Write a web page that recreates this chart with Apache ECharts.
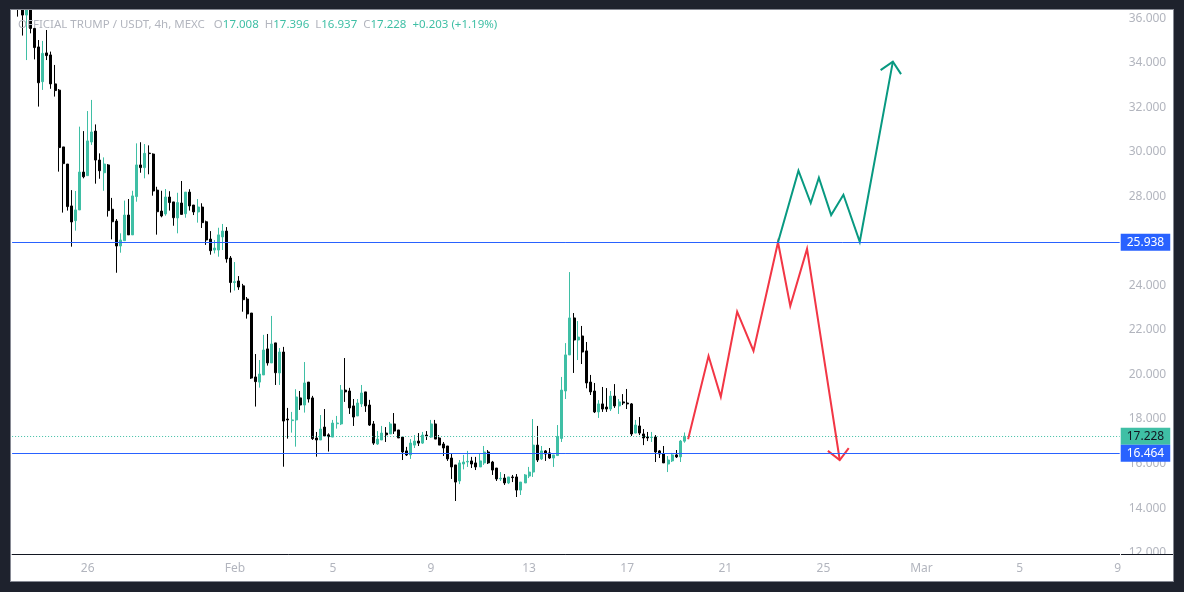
<!DOCTYPE html>
<html>
<head>
<meta charset="utf-8">
<title>OFFICIAL TRUMP / USDT</title>
<script src="https://cdn.jsdelivr.net/npm/echarts@6/dist/echarts.min.js"></script>
<style>
html, body { margin: 0; height: 100%; background: #1e222d; overflow: hidden; }
#chart { position: absolute; left: 11px; top: 10px; width: 1162px; height: 571px; background: #ffffff; box-shadow: 0 0 0 1px #868993; }
</style>
</head>
<body>
<div id="chart"></div>
<script>
// 4h candles, slot 0 (Jan 23 00:00) is empty and the first drawn one is slot 1
const opens = [
  37.4, 36.9, 36.14, 36.9, 35.54, 34.71, 33.15, 34.44, 34.35, 33.05,
  32.77, 30.22, 29.45, 27.57, 26.91, 27.39, 29.09, 28.93, 30.44, 30.93,
  29.63, 29.06, 29.41, 27.42, 26.89, 25.77, 26.01, 27.16, 26.27, 27.99,
  29.41, 29.29, 29.94, 29.90, 28.28, 27.34, 27.21, 27.97, 27.75, 27.03,
  27.70, 27.22, 28.19, 27.61, 27.30, 27.52, 26.86, 26.08, 25.59, 25.59,
  26.18, 26.44, 25.23, 24.13, 24.20, 23.98, 23.39, 22.76, 19.89, 19.66,
  19.98, 21.15, 20.52, 21.42, 20.07, 21.01, 18.00, 17.93, 17.96, 18.95,
  18.63, 19.66, 18.95, 17.15, 17.06, 17.64, 17.29, 17.19, 17.79, 17.78,
  19.30, 19.26, 18.59, 18.14, 18.68, 19.22, 18.63, 17.78, 16.88, 17.06,
  17.37, 17.33, 17.78, 17.51, 17.19, 16.57, 16.39, 16.83, 17.01, 16.92,
  17.28, 17.19, 17.78, 17.15, 16.88, 16.79, 16.25, 15.94, 15.22, 15.98,
  16.07, 16.12, 16.03, 15.85, 16.03, 16.52, 16.07, 15.80, 15.31, 15.35,
  15.13, 15.40, 15.40, 14.81, 15.13, 15.44, 15.62, 16.83, 16.21, 16.57,
  16.48, 16.25, 16.36, 17.13, 19.26, 20.88, 22.54, 21.55, 21.73, 21.06,
  19.66, 19.26, 18.32, 18.68, 18.54, 18.45, 19.03, 18.59, 18.77, 18.72,
  18.68, 17.37, 17.69, 17.33, 17.19, 17.17, 17.19, 16.57, 16.43, 15.98,
  16.12, 16.39, 16.30, 17.008
];
const closes = [
  36.9, 36.14, 36.9, 35.54, 34.68, 33.10, 34.42, 34.32, 33.05, 32.75,
  30.19, 29.47, 27.54, 26.85, 27.39, 29.09, 28.88, 30.49, 30.89, 29.63,
  29.15, 29.45, 27.36, 26.86, 25.77, 26.04, 27.16, 26.27, 28.02, 29.41,
  29.29, 29.93, 29.92, 28.24, 27.31, 27.12, 27.97, 27.72, 27.04, 27.72,
  27.19, 28.19, 27.57, 27.30, 27.52, 26.82, 26.04, 25.56, 25.68, 26.27,
  26.44, 25.19, 24.13, 24.17, 23.93, 23.36, 22.72, 19.84, 19.68, 20.02,
  21.10, 20.52, 21.37, 20.08, 21.01, 17.91, 17.96, 17.96, 18.99, 18.63,
  19.62, 18.90, 17.12, 17.06, 17.55, 17.24, 17.21, 17.82, 17.82, 19.30,
  19.22, 18.50, 18.09, 18.72, 19.17, 18.59, 17.73, 16.92, 17.10, 17.37,
  17.29, 17.78, 17.46, 17.15, 16.52, 16.39, 16.92, 17.01, 16.92, 17.28,
  17.24, 17.78, 17.10, 16.83, 16.70, 16.21, 15.85, 15.17, 16.03, 16.07,
  16.10, 15.98, 15.85, 16.12, 16.52, 16.03, 15.71, 15.31, 15.34, 15.13,
  15.40, 15.37, 14.81, 15.17, 15.49, 15.62, 16.83, 16.16, 16.57, 16.43,
  16.25, 16.39, 17.22, 19.30, 20.88, 22.54, 21.55, 21.68, 21.01, 19.62,
  19.22, 18.32, 18.68, 18.45, 18.45, 19.03, 18.59, 18.77, 18.72, 18.68,
  17.33, 17.73, 17.37, 17.15, 17.15, 17.19, 16.52, 16.43, 16.03, 16.16,
  16.39, 16.30, 17.01, 17.228
];
const lows = [
  36.07, 35.22, 34.12, 35.32, 34.15, 32.03, 32.78, 34.12, 32.83, 32.48,
  29.11, 27.27, 27.36, 25.74, 26.46, 27.39, 28.81, 28.93, 30.31, 28.57,
  28.79, 28.25, 27.09, 26.07, 24.57, 25.47, 26.01, 26.27, 26.27, 27.76,
  29.06, 28.81, 28.99, 28.03, 26.28, 27.06, 27.13, 27.36, 26.68, 26.34,
  27.19, 27.04, 27.36, 27.16, 26.82, 26.58, 25.82, 25.38, 25.44, 25.29,
  25.59, 25.02, 23.68, 23.77, 23.80, 22.82, 22.51, 19.80, 18.56, 19.41,
  19.98, 20.40, 20.52, 19.53, 19.53, 15.86, 17.12, 17.39, 16.76, 18.41,
  18.29, 18.74, 17.06, 16.31, 17.06, 17.24, 16.54, 17.19, 17.57, 17.73,
  18.77, 18.23, 17.69, 18.14, 18.54, 18.32, 17.69, 16.84, 16.84, 17.06,
  16.97, 17.33, 17.33, 17.15, 16.16, 16.34, 16.21, 16.70, 16.79, 16.88,
  17.06, 17.15, 17.10, 16.83, 16.34, 16.12, 15.31, 14.32, 15.08, 15.74,
  15.85, 15.80, 15.71, 15.85, 15.94, 15.98, 15.49, 15.22, 15.22, 15.04,
  15.08, 15.17, 14.50, 14.59, 15.13, 15.35, 15.40, 16.07, 16.16, 16.12,
  16.21, 15.85, 16.36, 16.97, 18.90, 20.88, 20.07, 20.65, 20.47, 19.38,
  19.08, 18.27, 18.05, 18.32, 18.32, 18.36, 18.50, 18.23, 18.63, 18.45,
  17.24, 17.36, 17.28, 16.83, 17.01, 16.97, 16.07, 16.25, 16.03, 15.62,
  16.07, 16.25, 16.07, 16.937
];
const highs = [
  37.6, 37.2, 37.0, 37.0, 35.6, 35.02, 34.98, 35.47, 34.50, 33.90,
  32.82, 30.22, 29.45, 28.28, 28.24, 31.13, 30.93, 31.83, 32.33, 31.23,
  29.93, 29.75, 29.45, 27.93, 26.98, 26.34, 27.81, 27.88, 28.25, 30.38,
  30.43, 30.35, 30.29, 29.93, 28.43, 28.25, 28.33, 28.23, 27.75, 28.16,
  28.69, 28.19, 28.32, 27.61, 27.88, 27.69, 26.91, 26.44, 26.04, 26.59,
  26.76, 26.62, 25.32, 25.05, 24.42, 24.07, 23.48, 22.76, 20.92, 20.65,
  21.78, 21.82, 22.63, 21.42, 21.19, 21.24, 18.50, 18.32, 19.34, 19.26,
  20.56, 19.66, 19.04, 17.42, 18.18, 18.45, 17.36, 17.96, 18.14, 19.53,
  20.74, 19.40, 18.90, 18.90, 19.53, 19.22, 18.86, 17.91, 17.46, 17.69,
  17.64, 17.87, 18.27, 17.51, 17.19, 16.75, 17.10, 17.28, 17.37, 17.42,
  17.46, 17.96, 17.96, 17.28, 16.97, 16.79, 16.43, 15.94, 16.16, 16.39,
  16.57, 16.30, 16.30, 16.43, 16.79, 16.61, 16.12, 15.80, 15.62, 15.53,
  15.40, 15.49, 15.53, 15.17, 15.53, 15.85, 18.00, 17.69, 16.79, 16.61,
  16.70, 16.39, 17.73, 19.89, 21.41, 24.60, 22.76, 22.40, 22.18, 21.46,
  19.98, 19.62, 18.85, 19.44, 19.39, 19.26, 19.57, 18.90, 19.12, 19.35,
  18.72, 17.96, 18.09, 17.55, 17.42, 17.42, 17.28, 16.61, 16.79, 16.34,
  16.48, 16.61, 17.06, 17.396
];

// level lines
const upperLevel = 25.938;
const lowerLevel = 16.464;
const lastPrice = 17.228;

// projected paths, as [candle slot, price]
const redPath = [[164.9, 17.09], [169.9, 20.83], [172.9, 19.00], [176.9, 22.82], [180.9, 21.06], [186.9, 25.94], [189.9, 23.08], [194.0, 25.64], [202.0, 16.16]];
const redHead = [[199.1, 16.57], [202.0, 16.16], [204.2, 16.69]];
const greenPath = [[186.9, 25.94], [191.9, 29.15], [194.9, 27.70], [196.9, 28.84], [199.9, 27.16], [202.9, 28.07], [206.9, 25.96], [215.0, 34.05]];
const greenHead = [[212.0, 33.67], [215.0, 34.05], [217.0, 33.49]];

const priceTicks = [12, 14, 16, 18, 20, 22, 24, 26, 28, 30, 32, 34, 36];
const dateTicks = { 18: '26', 54: 'Feb', 78: '5', 102: '9', 126: '13', 150: '17', 174: '21', 198: '25', 222: 'Mar', 246: '5', 270: '9' };

const slotCount = 271;
const categories = [];
for (let i = 0; i < slotCount; i++) {
    categories.push(new Date(Date.UTC(2025, 0, 23, i * 4)).toISOString().slice(0, 16));
}

const candleData = [['-', '-', '-', '-']];
opens.forEach(function (o, i) {
    candleData.push([o, closes[i], lows[i], highs[i]]);
});

const upColor = '#3fbfa5';
const downColor = '#000000';
const labelGrey = '#b2b5be';
const blue = '#2962ff';
const fontFamily = '"Noto Sans", sans-serif';

function levelLine(value, color, lineType, textColor) {
    return {
        yAxis: value,
        lineStyle: { color: color, width: 1, type: lineType },
        label: {
            show: true,
            position: 'end',
            distance: 1,
            formatter: value.toFixed(3),
            color: textColor,
            backgroundColor: color,
            fontFamily: fontFamily,
            fontSize: 12,
            lineHeight: 13,
            padding: [2, 6, 2, 6]
        }
    };
}

function pathSeries(data, color) {
    return {
        type: 'line',
        xAxisIndex: 1,
        data: data,
        symbol: 'none',
        silent: true,
        z: 4,
        lineStyle: { color: color, width: 2, join: 'miter' }
    };
}

const chart = echarts.init(document.getElementById('chart'));
chart.setOption({
    animation: false,
    title: {
        left: 7,
        top: 8,
        padding: 0,
        text: '{g|OFFICIAL TRUMP / USDT, 4h, MEXC   O}{t|17.008}{g|  H}{t|17.396}{g|  L}{t|16.937}{g|  C}{t|17.228}{t|  +0.203 (+1.19%)}',
        textStyle: {
            fontWeight: 'normal',
            rich: {
                g: { color: labelGrey, fontFamily: fontFamily, fontSize: 11.5, lineHeight: 14, fontWeight: 'normal' },
                t: { color: upColor, fontFamily: fontFamily, fontSize: 11.5, lineHeight: 14, fontWeight: 'normal' }
            }
        }
    },
    grid: { left: 1.1, right: 53.3, top: 0, bottom: 27 },
    xAxis: [
        {
            type: 'category',
            data: categories,
            z: 5,
            axisLine: { lineStyle: { color: '#131722', width: 1 } },
            axisTick: { show: false },
            splitLine: { show: false },
            axisLabel: {
                color: labelGrey,
                fontFamily: fontFamily,
                fontSize: 12,
                margin: 9,
                interval: function (index) { return dateTicks[index] !== undefined; },
                formatter: function (value, index) { return dateTicks[index]; }
            }
        },
        { type: 'value', min: -0.5, max: slotCount - 0.5, show: false }
    ],
    yAxis: {
        type: 'value',
        position: 'right',
        min: 11.94,
        max: 36.368,
        axisLine: { show: false },
        axisTick: { show: false },
        splitLine: { show: false },
        axisLabel: {
            color: labelGrey,
            fontFamily: fontFamily,
            fontSize: 12,
            margin: 9,
            customValues: priceTicks,
            formatter: function (value) { return value.toFixed(3); }
        }
    },
    series: [
        {
            type: 'candlestick',
            data: candleData,
            barWidth: 2.5,
            itemStyle: {
                color: upColor,
                color0: downColor,
                borderColor: upColor,
                borderColor0: downColor,
                borderWidth: 1
            },
            markLine: {
                silent: true,
                symbol: 'none',
                animation: false,
                data: [
                    levelLine(upperLevel, blue, 'solid', '#ffffff'),
                    levelLine(lastPrice, upColor, [1, 2], '#131722'),
                    levelLine(lowerLevel, blue, 'solid', '#ffffff')
                ]
            }
        },
        pathSeries(redPath, '#f23645'),
        pathSeries(redHead, '#f23645'),
        pathSeries(greenPath, '#089981'),
        pathSeries(greenHead, '#089981')
    ],
    graphic: [
        // covers the lower half of the 12.000 label, the time scale sits above it
        { type: 'rect', x: 0, y: 545, z: 3, shape: { width: 1162, height: 26 }, style: { fill: '#ffffff' } },
        { type: 'line', z: 5, shape: { x1: 1110, y1: 544.5, x2: 1162, y2: 544.5 }, style: { stroke: '#131722', lineWidth: 1 } }
    ]
});
</script>
</body>
</html>
